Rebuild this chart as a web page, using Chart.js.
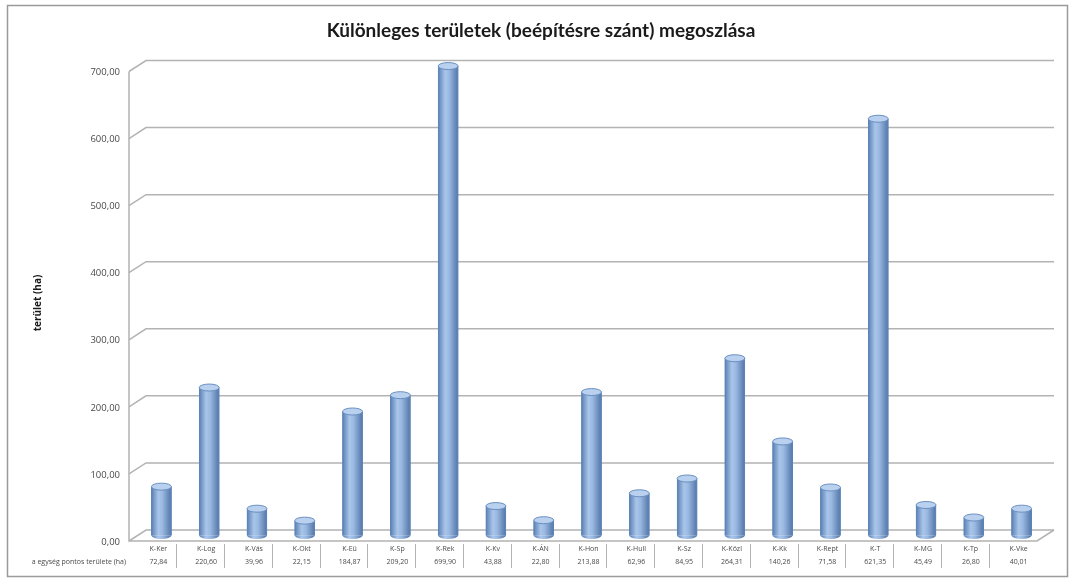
<!DOCTYPE html>
<html>
<head>
<meta charset="utf-8">
<script src="https://cdn.jsdelivr.net/npm/chart.js@4"></script>
<style>
  html, body { margin: 0; padding: 0; background: #fff; }
  #wrap { width: 1075px; height: 580px; position: relative; }
</style>
</head>
<body>
<div id="wrap"><canvas id="chart" width="1075" height="580"></canvas></div>
<script>
// chart data
var categories = ["K-Ker", "K-Log", "K-Vás", "K-Okt", "K-Eü", "K-Sp", "K-Rek", "K-Kv", "K-ÁN", "K-Hon",
                  "K-Hull", "K-Sz", "K-Közl", "K-Kk", "K-Rept", "K-T", "K-MG", "K-Tp", "K-Vke"];
var areas = [72.84, 220.60, 39.96, 22.15, 184.87, 209.20, 699.90, 43.88, 22.80, 213.88,
             62.96, 84.95, 264.31, 140.26, 71.58, 621.35, 45.49, 26.80, 40.01];
var yTicks = [0, 100, 200, 300, 400, 500, 600, 700];
var chartTitle = "Különleges területek (beépítésre szánt) megoszlása";
var yTitle = "terület (ha)";
var rowTitle = "a egység pontos területe (ha)";

// depth of the fake 3d box (front -> back)
var DX = 17, DY = 11;

function fmt(v) {
    return v.toFixed(2).replace(".", ",");
}

var threeD = {
    id: "threeD",
    beforeDatasetsDraw: function (chart) {
        var ctx = chart.ctx;
        var y = chart.scales.y;
        var area = chart.chartArea;
        var frontL = area.left - DX / 2, backL = area.left + DX / 2;
        var backR = area.right + DX / 2, frontR = area.right - DX / 2;
        ctx.save();
        // outer frame
        ctx.strokeStyle = "#9a9a9a";
        ctx.lineWidth = 1.5;
        ctx.strokeRect(7.5, 5.5, 1060, 571);

        ctx.strokeStyle = "#b3b3b3";
        ctx.lineWidth = 1.5;
        yTicks.forEach(function (t) {
            var py = y.getPixelForValue(t);
            ctx.beginPath();
            ctx.moveTo(frontL, py + DY / 2);
            ctx.lineTo(backL, py - DY / 2);
            ctx.lineTo(backR, py - DY / 2);
            ctx.stroke();
        });
        // front axis
        ctx.beginPath();
        ctx.moveTo(frontL, y.getPixelForValue(700) + DY / 2);
        ctx.lineTo(frontL, y.getPixelForValue(0) + DY / 2);
        ctx.lineTo(frontR, y.getPixelForValue(0) + DY / 2);
        ctx.lineTo(backR, y.getPixelForValue(0) - DY / 2);
        ctx.stroke();

        // tick labels
        ctx.fillStyle = "#4a4a4a";
        ctx.font = "9.5px 'Open Sans', sans-serif";
        ctx.textAlign = "right";
        ctx.textBaseline = "middle";
        yTicks.forEach(function (t) {
            ctx.fillText(fmt(t), frontL - 9, y.getPixelForValue(t) + DY / 2 + 1);
        });

        // title
        ctx.fillStyle = "#1a1a1a";
        ctx.font = "bold 19px Lato, sans-serif";
        ctx.textAlign = "center";
        ctx.fillText(chartTitle, 541, 31);

        // y axis title
        ctx.save();
        ctx.translate(38, 303);
        ctx.rotate(-Math.PI / 2);
        ctx.font = "bold 10px 'Open Sans', sans-serif";
        ctx.fillStyle = "#1a1a1a";
        ctx.fillText(yTitle, 0, 0);
        ctx.restore();

        // data table
        var x = chart.scales.x;
        var step = x.getPixelForValue(1) - x.getPixelForValue(0);
        var top = y.getPixelForValue(0) + DY / 2;
        ctx.font = "7px 'Open Sans', sans-serif";
        ctx.fillStyle = "#4a4a4a";
        ctx.strokeStyle = "#b3b3b3";
        ctx.lineWidth = 1;
        categories.forEach(function (c, i) {
            var cx = x.getPixelForValue(i) - 3;
            ctx.textAlign = "center";
            ctx.fillText(c, cx, top + 8);
            ctx.fillText(fmt(areas[i]), cx, top + 21);
            if (i < categories.length - 1) {
                var bx = Math.round(cx + step / 2 - 6) + 0.5;
                ctx.beginPath();
                ctx.moveTo(bx, top + 3);
                ctx.lineTo(bx, top + 27);
                ctx.stroke();
            }
        });
        ctx.textAlign = "right";
        ctx.fillText(rowTitle, frontL - 3, top + 21);
        ctx.restore();
    },
    afterDatasetsDraw: function (chart) {
        // cylinder shading and elliptical caps, on top of each bar element
        var ctx = chart.ctx;
        var meta = chart.getDatasetMeta(0);
        ctx.save();
        meta.data.forEach(function (bar) {
            var w = bar.width / 2;
            var g = ctx.createLinearGradient(bar.x - w, 0, bar.x + w, 0);
            g.addColorStop(0, "#5a80b3");
            g.addColorStop(0.35, "#a9c5ea");
            g.addColorStop(0.55, "#9ab9e1");
            g.addColorStop(1, "#5275a8");
            ctx.fillStyle = g;
            ctx.fillRect(bar.x - w, bar.y, bar.width, bar.base - bar.y);
            ctx.beginPath();
            ctx.ellipse(bar.x, bar.base, w, 3.5, 0, 0, Math.PI);
            ctx.fill();
            ctx.strokeStyle = "#5f86b8";
            ctx.lineWidth = 1;
            ctx.beginPath();
            ctx.moveTo(bar.x - w + 0.5, bar.y);
            ctx.lineTo(bar.x - w + 0.5, bar.base);
            ctx.moveTo(bar.x + w - 0.5, bar.y);
            ctx.lineTo(bar.x + w - 0.5, bar.base);
            ctx.stroke();
            ctx.beginPath();
            ctx.ellipse(bar.x, bar.y, w, 3.5, 0, 0, Math.PI * 2);
            ctx.fillStyle = "#b9d0ee";
            ctx.fill();
            ctx.strokeStyle = "#6a8fc0";
            ctx.stroke();
        });
        ctx.restore();
    }
};

new Chart(document.getElementById("chart"), {
    type: "bar",
    data: {
        labels: categories,
        datasets: [{
            data: areas,
            backgroundColor: "#8eb0dc",
            borderColor: "#5f86b8",
            borderWidth: { left: 1, right: 1, top: 0, bottom: 0 },
            barThickness: 20
        }]
    },
    options: {
        responsive: false,
        animation: false,
        devicePixelRatio: 1,
        layout: { padding: { left: 137.5, right: 29.5, top: 66, bottom: 44.5 } },
        plugins: {
            legend: { display: false },
            title: { display: false },
            tooltip: { enabled: false }
        },
        scales: {
            x: { display: false },
            y: { display: false, min: 0, max: 700 }
        }
    },
    plugins: [threeD]
});
</script>
</body>
</html>
